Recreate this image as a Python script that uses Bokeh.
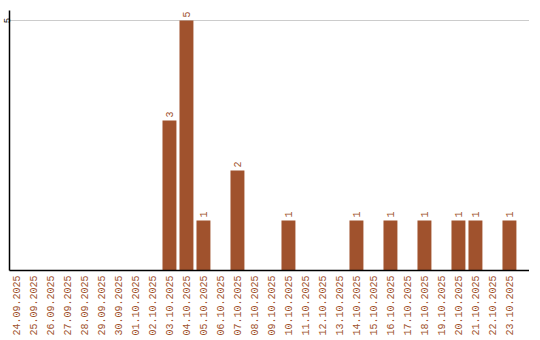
import math
from bokeh.plotting import figure
from bokeh.models import Range1d, FixedTicker, ColumnDataSource
from bokeh.core.properties import value
from bokeh.embed import file_html
from bokeh.resources import INLINE

dates = ["24.09.2025", "25.09.2025", "26.09.2025", "27.09.2025", "28.09.2025",
         "29.09.2025", "30.09.2025", "01.10.2025", "02.10.2025", "03.10.2025",
         "04.10.2025", "05.10.2025", "06.10.2025", "07.10.2025", "08.10.2025",
         "09.10.2025", "10.10.2025", "11.10.2025", "12.10.2025", "13.10.2025",
         "14.10.2025", "15.10.2025", "16.10.2025", "17.10.2025", "18.10.2025",
         "19.10.2025", "20.10.2025", "21.10.2025", "22.10.2025", "23.10.2025"]
counts = [0, 0, 0, 0, 0, 0, 0, 0, 0, 3,
          5, 1, 0, 2, 0, 0, 1, 0, 0, 0,
          1, 0, 1, 0, 1, 0, 1, 1, 0, 1]
y_ticks = [5]

BROWN = "#A0522D"
FONT = "Liberation Mono"

idx = list(range(len(dates)))
src = ColumnDataSource(dict(
    x=[i for i, c in zip(idx, counts) if c > 0],
    top=[c for c in counts if c > 0],
    lbl=[str(c) for c in counts if c > 0],
))

p = figure(width=540, height=340, output_backend="svg", toolbar_location=None,
           x_range=Range1d(-0.41, 30.18), y_range=Range1d(0, 5.2),
           frame_width=520, frame_height=260,
           min_border_left=0, min_border_right=0, min_border_top=10,
           min_border_bottom=0)
p.outline_line_color = None
p.background_fill_color = "white"
p.border_fill_color = "white"

p.vbar(x="x", top="top", width=0.82, source=src, fill_color=BROWN, line_color=None)
p.text(x="x", y="top", text="lbl", source=src, angle=math.pi / 2,
       text_align="left", text_baseline="middle", x_offset=0, y_offset=-3,
       text_font=value(FONT), text_font_size="10px", text_color=BROWN)

xa = p.xaxis[0]
xa.ticker = FixedTicker(ticks=idx)
xa.major_label_overrides = {i: d for i, d in zip(idx, dates)}
xa.major_label_orientation = math.pi / 2
xa.major_label_text_font = FONT
xa.major_label_text_font_size = "10px"
xa.major_label_text_color = BROWN
xa.major_tick_line_color = None
xa.minor_tick_line_color = None
xa.major_tick_out = 0
xa.major_tick_in = 0
xa.major_label_standoff = 5
xa.axis_line_color = "black"
xa.axis_line_width = 1.5

ya = p.yaxis[0]
ya.ticker = FixedTicker(ticks=y_ticks)
ya.major_label_orientation = "vertical"
ya.major_label_text_font = FONT
ya.major_label_text_font_size = "9px"
ya.major_label_text_color = "black"
ya.major_tick_line_color = None
ya.minor_tick_line_color = None
ya.major_tick_out = 0
ya.major_tick_in = 0
ya.major_label_standoff = 0
ya.axis_line_color = "black"
ya.axis_line_width = 1.5

p.xgrid.grid_line_color = None
p.ygrid.grid_line_color = "#cccccc"
p.ygrid.ticker = FixedTicker(ticks=y_ticks)

open("out.html", "w").write(file_html(p, INLINE))
